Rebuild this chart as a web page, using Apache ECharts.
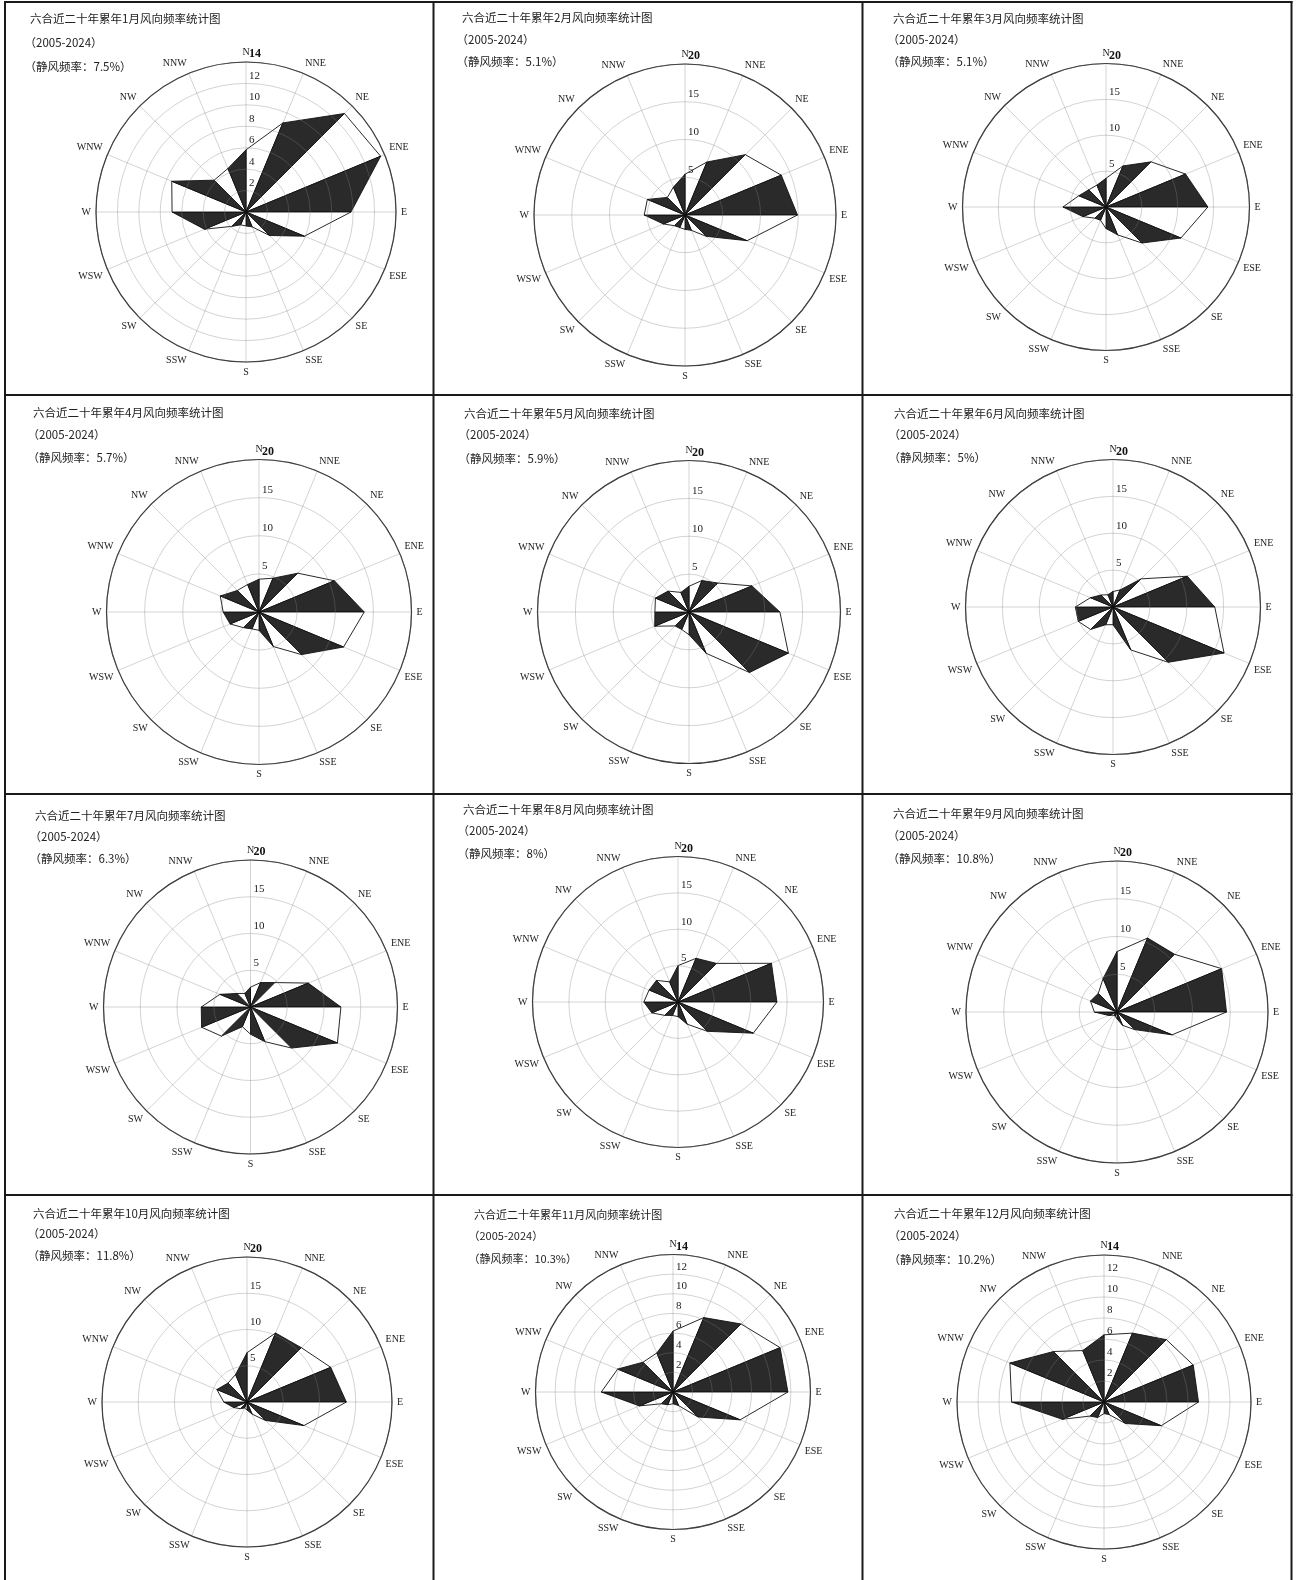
<!DOCTYPE html>
<html><head><meta charset="utf-8">
<script src="https://cdn.jsdelivr.net/npm/echarts@6/dist/echarts.min.js"></script>
<style>html,body{margin:0;padding:0;background:#fff}#c{width:1297px;height:1580px}</style>
</head><body><div id="c"></div>
<script>
// ---------------- data ----------------
const directions = ['N','NNE','NE','ENE','E','ESE','SE','SSE','S','SSW','SW','WSW','W','WNW','NW','NNW'];
const months = ['1','2','3','4','5','6','7','8','9','10','11','12'];
const calmFreq = [7.5, 5.1, 5.1, 5.7, 5.9, 5, 6.3, 8, 10.8, 11.8, 10.3, 10.2];
const period = '2005-2024';
const janFreq = [5.8, 9.0, 13.0, 13.6, 9.8, 5.9, 3.1, 1.5, 1.3, 1.3, 1.9, 4.2, 6.9, 7.5, 4.2, 4.4];
const febFreq = [5.4, 7.6, 11.3, 13.8, 14.9, 8.9, 4.0, 2.2, 1.9, 1.8, 2.0, 3.1, 5.4, 5.4, 3.3, 4.0];
const marFreq = [4.0, 6.2, 8.9, 12.0, 14.2, 11.3, 7.1, 4.2, 3.0, 2.0, 2.2, 3.5, 6.0, 4.1, 3.4, 3.3];
const aprFreq = [4.3, 4.8, 7.2, 10.7, 13.8, 12.0, 7.9, 4.9, 2.4, 2.4, 2.9, 4.1, 4.7, 5.5, 4.0, 3.9];
const mayFreq = [3.4, 4.5, 5.4, 9.0, 12.0, 14.2, 11.3, 5.9, 3.0, 2.5, 2.6, 4.9, 4.5, 4.8, 3.9, 2.8];
const junFreq = [2.1, 2.5, 5.4, 10.9, 13.8, 16.3, 10.6, 6.3, 2.4, 2.6, 4.3, 5.1, 5.1, 3.3, 2.3, 1.8];
const julFreq = [2.7, 3.6, 4.7, 8.5, 12.3, 12.8, 7.9, 5.1, 3.7, 2.9, 5.6, 7.2, 6.7, 4.5, 2.6, 2.0];
const augFreq = [5.0, 6.5, 7.5, 13.9, 13.6, 11.2, 5.7, 3.3, 2.0, 2.0, 2.6, 3.9, 4.7, 4.3, 4.2, 3.0];
const sepFreq = [8.0, 10.6, 10.8, 15.0, 14.5, 7.9, 3.3, 1.9, 0.9, 0.6, 0.6, 1.2, 3.0, 3.8, 3.5, 4.8];
const octFreq = [6.8, 10.3, 10.6, 12.5, 13.7, 8.5, 3.6, 1.8, 1.1, 0.9, 1.3, 2.0, 3.2, 4.5, 3.7, 4.1];
const novFreq = [6.2, 8.2, 9.8, 11.8, 11.7, 7.4, 3.6, 1.5, 1.2, 1.4, 1.7, 3.7, 7.3, 6.1, 4.3, 4.3];
const decFreq = [6.4, 7.1, 8.4, 9.2, 9.0, 5.9, 2.9, 1.3, 1.1, 1.6, 1.9, 4.3, 8.8, 9.7, 6.8, 5.3];
const radiusMax = [14, 20, 20, 20, 20, 20, 20, 20, 20, 20, 14, 14];
const radiusStep = [2, 5, 5, 5, 5, 5, 5, 5, 5, 5, 2, 2];

const monthFreq = [janFreq, febFreq, marFreq, aprFreq, mayFreq, junFreq, julFreq, augFreq, sepFreq, octFreq, novFreq, decFreq];
const dirStep = 360 / directions.length;

// ---------------- layout ----------------
const layout = [
  {cx: 246, cy: 212, r: 150, tx: 30, ty: [19, 42.7, 66.7], fs: 11.5},
  {cx: 685, cy: 215, r: 151, tx: 462, ty: [17.3, 39.3, 61.7], fs: 11.5},
  {cx: 1106, cy: 207, r: 143.5, tx: 893, ty: [19, 40, 61.7], fs: 11.5},
  {cx: 259, cy: 612, r: 152.5, tx: 33, ty: [412.3, 434.3, 457.7], fs: 11.5},
  {cx: 689, cy: 612, r: 151.5, tx: 464, ty: [413.3, 435, 458.3], fs: 11.5},
  {cx: 1113, cy: 607, r: 147.5, tx: 894, ty: [414, 435, 457.3], fs: 11.5},
  {cx: 250.5, cy: 1007, r: 147, tx: 35, ty: [815.7, 836.7, 859], fs: 11.5},
  {cx: 678, cy: 1002, r: 145.5, tx: 463, ty: [810, 831, 854], fs: 11.5},
  {cx: 1117, cy: 1012, r: 151, tx: 893, ty: [814, 835.7, 858.3], fs: 11.5},
  {cx: 247, cy: 1402, r: 145, tx: 33, ty: [1213.3, 1233.3, 1256], fs: 11.5},
  {cx: 673, cy: 1392, r: 137.5, tx: 474, ty: [1215, 1235.7, 1259], fs: 11},
  {cx: 1104, cy: 1402, r: 147, tx: 894, ty: [1214, 1235.7, 1260], fs: 11.5}
];
const vLines = [5, 433.5, 862.5, 1291.5];
const hLines = [2, 395, 794, 1195];

const cjkFont = '"Noto Sans CJK SC", sans-serif';
const axisFont = '"Liberation Serif", serif';

const chart = echarts.init(document.getElementById('c'), null, {renderer: 'canvas'});

function renderItem(params, api) {
  const a1 = api.value(1);
  const a2 = a1 + dirStep;
  const idx = Math.round(a1 / dirStep);
  const c = api.coord([0, a1]);
  const p1 = api.coord([api.value(0), a1]);
  const p2 = api.coord([api.value(2), a2]);
  return {
    type: 'polygon',
    shape: {points: [c, p1, p2]},
    style: {fill: idx % 2 ? '#2a2a2a' : '#ffffff', stroke: '#111', lineWidth: 0.9}
  };
}

const polar = [], angleAxis = [], radiusAxis = [], series = [], title = [], graphic = [];

months.forEach((m, k) => {
  const L = layout[k];
  const max = radiusMax[k];
  polar.push({center: [L.cx, L.cy], radius: L.r});
  angleAxis.push({
    polarIndex: k, type: 'value', min: 0, max: 360, interval: dirStep,
    startAngle: 90, clockwise: true,
    axisLine: {show: true, lineStyle: {color: '#222', width: 1.2}},
    axisTick: {show: false},
    axisLabel: {
      margin: 5, fontSize: 10, color: '#222', fontFamily: axisFont,
      formatter: v => v >= 360 ? '' : directions[Math.round(v / dirStep)]
    },
    splitLine: {show: true, lineStyle: {color: '#d4d4d4', width: 1}}
  });
  radiusAxis.push({
    polarIndex: k, type: 'value', min: 0, max: max, interval: radiusStep[k], z: 5,
    axisLine: {show: false}, axisTick: {show: false},
    splitLine: {show: true, lineStyle: {color: 'rgba(128,128,128,0.35)', width: 1}},
    axisLabel: {
      margin: -3, align: 'left', verticalAlign: 'bottom', padding: [0, 0, 2, 0],
      fontSize: 11, color: '#222', fontFamily: axisFont,
      formatter: v => v === 0 ? '' : (v === max ? '{b|' + v + '}' : String(v)),
      rich: {b: {fontSize: 12, fontWeight: 'bold', color: '#111', fontFamily: axisFont}}
    }
  });
  const f = monthFreq[k];
  series.push({
    type: 'custom', coordinateSystem: 'polar', polarIndex: k, z: 2,
    encode: {radius: 0, angle: 1},
    data: f.map((v, i) => [v, i * dirStep, f[(i + 1) % f.length]]),
    renderItem: renderItem, silent: true
  });
  const lines = [
    '六合近二十年累年' + m + '月风向频率统计图',
    '（' + period + '）',
    '（静风频率：' + calmFreq[k] + '%）'
  ];
  lines.forEach((t, li) => {
    title.push({
      text: t, left: li === 0 ? L.tx : L.tx - 5.5, top: L.ty[li] - 7, padding: 0,
      textStyle: {fontSize: L.fs, fontWeight: 'normal', color: '#222', fontFamily: cjkFont, lineHeight: 14}
    });
  });
});

vLines.forEach(x => graphic.push({type: 'line', shape: {x1: x, y1: 1, x2: x, y2: 1580}, style: {stroke: '#1a1a1a', lineWidth: 2}, z: 100}));
hLines.forEach(y => graphic.push({type: 'line', shape: {x1: 4, y1: y, x2: 1292.5, y2: y}, style: {stroke: '#1a1a1a', lineWidth: 2}, z: 100}));

chart.setOption({
  backgroundColor: '#fff',
  animation: false,
  title, polar, angleAxis, radiusAxis, series, graphic
});
</script>
</body></html>
